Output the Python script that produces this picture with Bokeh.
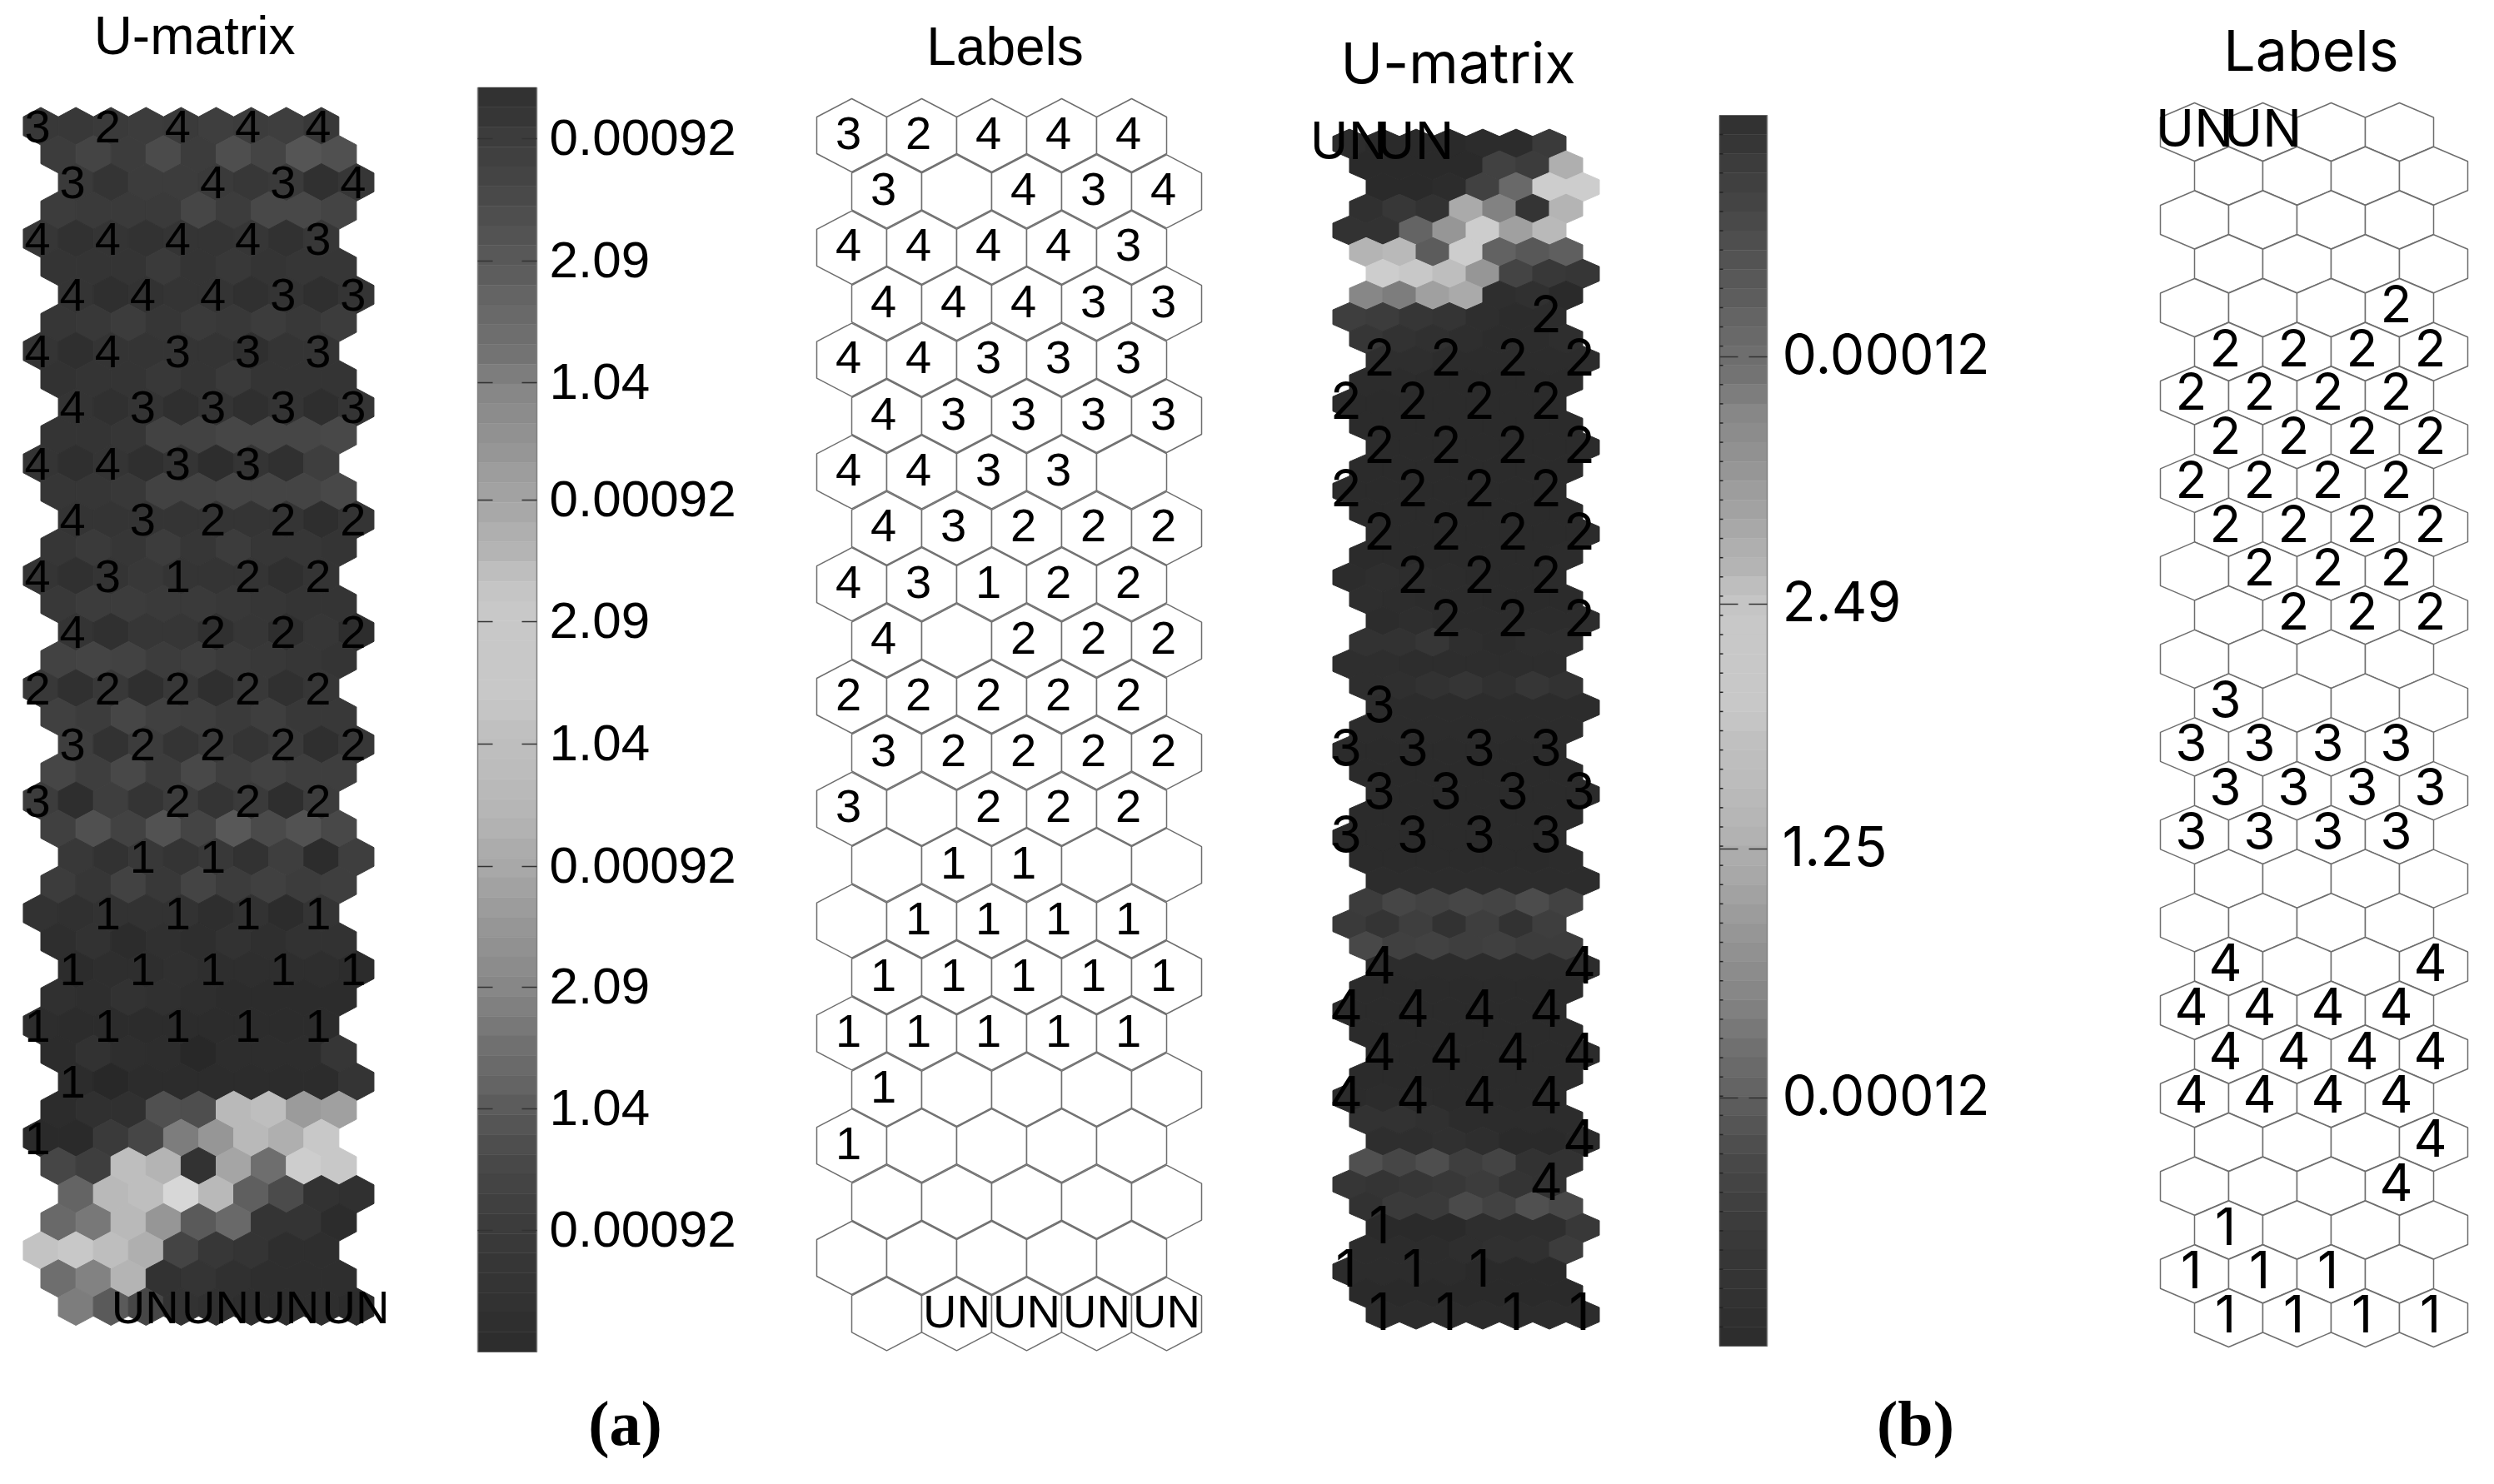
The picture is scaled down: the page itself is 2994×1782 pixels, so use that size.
from bokeh.plotting import figure
from bokeh.models import Range1d, ColumnDataSource, LinearColorMapper
from bokeh.core.properties import value
from bokeh.embed import file_html
from bokeh.resources import INLINE

# ---------- data ----------
labels_a = [
    "3 2 4 4 4", "3 . 4 3 4", "4 4 4 4 3", "4 4 4 3 3", "4 4 3 3 3", "4 3 3 3 3",
    "4 4 3 3 .", "4 3 2 2 2", "4 3 1 2 2", "4 . 2 2 2", "2 2 2 2 2", "3 2 2 2 2",
    "3 . 2 2 2", ". 1 1 . .", ". 1 1 1 1", "1 1 1 1 1", "1 1 1 1 1", "1 . . . .",
    "1 . . . .", ". . . . .", ". . . . .", ". UN UN UN UN",
]
labels_b = [
    "UN UN . .", ". . . .", ". . . .", ". . . .", ". . . 2", "2 2 2 2", "2 2 2 2",
    "2 2 2 2", "2 2 2 2", "2 2 2 2", ". 2 2 2", ". 2 2 2", ". . . .", "3 . . .",
    "3 3 3 3", "3 3 3 3", "3 3 3 3", ". . . .", ". . . .", "4 . . 4", "4 4 4 4",
    "4 4 4 4", "4 4 4 4", ". . . 4", ". . . 4", "1 . . .", "1 1 1 .", "1 1 1 1",
]
umatrix_a = [
    [56, 56, 58, 60, 58, 62, 60, 62, 56], [60, 68, 60, 75, 60, 78, 68, 85, 80],
    [58, 52, 60, 60, 58, 55, 58, 48, 54], [60, 58, 58, 58, 70, 60, 72, 72, 68],
    [54, 49, 52, 50, 52, 52, 54, 49, 55], [52, 52, 52, 58, 52, 56, 52, 54, 54],
    [52, 47, 50, 52, 52, 48, 52, 47, 52], [54, 56, 60, 54, 58, 56, 60, 56, 60],
    [52, 47, 52, 52, 52, 52, 47, 52, 52], [50, 52, 52, 56, 52, 58, 52, 52, 52],
    [52, 48, 52, 47, 52, 47, 52, 46, 52], [52, 52, 54, 66, 66, 70, 70, 70, 72],
    [52, 47, 52, 47, 52, 45, 52, 48, 62], [54, 54, 56, 66, 66, 68, 68, 68, 72],
    [52, 52, 52, 52, 52, 52, 52, 46, 52], [54, 58, 54, 60, 54, 60, 54, 54, 52],
    [52, 48, 52, 56, 52, 52, 52, 47, 52], [56, 60, 60, 58, 58, 56, 54, 52, 52],
    [52, 48, 54, 54, 48, 54, 46, 54, 45], [66, 68, 66, 60, 62, 58, 56, 54, 52],
    [56, 48, 56, 47, 56, 47, 56, 48, 54], [64, 60, 70, 64, 62, 58, 62, 56, 56],
    [62, 50, 60, 52, 58, 52, 58, 47, 55], [70, 62, 72, 60, 72, 62, 66, 62, 62],
    [60, 46, 62, 52, 60, 52, 58, 46, 60], [64, 80, 66, 82, 68, 88, 74, 82, 72],
    [56, 50, 56, 52, 56, 50, 62, 44, 62], [60, 54, 66, 56, 68, 60, 64, 60, 62],
    [50, 48, 50, 50, 50, 46, 50, 44, 52], [46, 50, 44, 48, 46, 50, 47, 50, 50],
    [44, 46, 46, 48, 46, 46, 46, 46, 44], [48, 46, 50, 48, 46, 44, 44, 44, 44],
    [45, 44, 44, 44, 44, 44, 44, 44, 44], [44, 50, 46, 45, 40, 45, 45, 45, 54],
    [44, 40, 44, 44, 44, 44, 44, 44, 52], [44, 48, 48, 80, 78, 185, 190, 155, 160],
    [42, 42, 58, 70, 125, 150, 185, 175, 200], [70, 62, 190, 180, 50, 165, 110, 205, 200],
    [100, 185, 190, 215, 185, 95, 75, 50, 48], [105, 120, 185, 150, 90, 105, 52, 52, 44],
    [195, 200, 190, 175, 68, 55, 52, 46, 46], [110, 130, 180, 50, 52, 48, 46, 46, 46],
    [125, 90, 70, 50, 48, 46, 46, 46, 44],
]
umatrix_b = [
    [45, 42, 42, 42, 44, 44, 58], [42, 42, 42, 42, 65, 60, 175],
    [42, 42, 44, 65, 105, 205, 205], [48, 55, 50, 170, 130, 52, 180],
    [50, 50, 100, 150, 205, 160, 185], [180, 185, 92, 205, 98, 88, 95],
    [205, 200, 190, 150, 68, 56, 54], [135, 125, 160, 170, 46, 48, 42],
    [62, 60, 54, 52, 46, 44, 44], [54, 50, 48, 46, 44, 44, 46],
    [46, 46, 44, 44, 44, 44, 44], [44, 44, 43, 43, 43, 43, 43],
    [43, 43, 43, 43, 43, 43, 43], [43, 43, 43, 43, 43, 43, 43],
    [43, 43, 43, 43, 43, 43, 43], [43, 43, 43, 43, 43, 43, 43],
    [43, 43, 43, 43, 43, 43, 43], [43, 43, 43, 43, 43, 43, 43],
    [43, 43, 43, 43, 43, 43, 43], [43, 43, 43, 43, 43, 43, 44],
    [44, 46, 45, 44, 43, 43, 43], [46, 45, 44, 44, 43, 43, 43],
    [44, 46, 44, 44, 44, 44, 44], [50, 50, 54, 46, 44, 46, 46],
    [46, 46, 45, 45, 45, 45, 45], [46, 47, 50, 53, 48, 54, 50],
    [44, 44, 44, 44, 44, 44, 44], [44, 44, 44, 44, 44, 44, 44],
    [43, 43, 43, 43, 43, 43, 43], [43, 43, 43, 43, 43, 43, 43],
    [43, 43, 43, 43, 43, 43, 43], [43, 43, 43, 43, 43, 43, 43],
    [43, 43, 43, 43, 43, 43, 43], [43, 43, 43, 43, 43, 43, 44],
    [44, 44, 44, 44, 44, 44, 44], [60, 70, 66, 70, 68, 76, 66],
    [58, 52, 62, 50, 62, 50, 62], [72, 64, 66, 62, 64, 60, 60],
    [44, 44, 44, 44, 44, 44, 44], [43, 43, 43, 43, 43, 43, 43],
    [43, 43, 43, 43, 43, 43, 43], [43, 43, 43, 43, 43, 43, 43],
    [43, 43, 43, 43, 43, 43, 43], [43, 43, 43, 43, 43, 43, 43],
    [43, 44, 44, 43, 43, 43, 43], [50, 50, 48, 44, 44, 44, 44],
    [46, 46, 48, 46, 42, 42, 44], [80, 70, 78, 62, 68, 50, 50],
    [54, 52, 54, 56, 60, 52, 50], [50, 58, 58, 74, 66, 80, 72],
    [42, 42, 42, 46, 46, 46, 56], [44, 44, 44, 46, 48, 48, 60],
    [44, 44, 44, 44, 42, 42, 42], [42, 42, 42, 42, 42, 42, 42],
    [44, 44, 44, 44, 44, 44, 44],
]
colorbar_levels = [
    50, 54, 60, 64, 68, 73, 78, 83, 88, 93, 100, 105, 110, 115, 125, 135,
    140, 145, 150, 157, 162, 168, 175, 180, 190, 197, 200, 200, 200, 200, 200, 197,
    192, 190, 188, 185, 182, 178, 172, 168, 162, 156, 150, 145, 140, 135, 128, 120,
    112, 106, 100, 92, 85, 78, 72, 68, 64, 60, 57, 54, 52, 50, 47, 45,
]
ticks_a = ["0.00092", "2.09", "1.04", "0.00092", "2.09", "1.04", "0.00092", "2.09", "1.04", "0.00092"]
ticks_b = ["0.00012", "2.49", "1.25", "0.00012"]

# ---------- layout ----------
SANS = "Liberation Sans"
WIDE = "Inter"
p = figure(width=2978, height=1766, output_backend="svg", toolbar_location=None,
           x_range=Range1d(0, 2978), y_range=Range1d(1766, 0), min_border=0)
p.axis.visible = False
p.grid.visible = False
p.outline_line_color = None
p.background_fill_color = "white"
mapper = LinearColorMapper(palette=["#%02x%02x%02x" % (g, g, g) for g in range(256)], low=0, high=255)


def hexverts(cx, cy, hw, r):
    return ([cx, cx + hw, cx + hw, cx, cx - hw, cx - hw],
            [cy - r, cy - r / 2, cy + r / 2, cy + r, cy + r / 2, cy - r / 2])


def draw_texts(xs, ys, texts, size, font=SANS, style="normal", align="center"):
    p.text(x=xs, y=ys, text=texts, text_font=value(font), text_font_size=f"{size}px",
           text_font_style=style, text_align=align, text_baseline="middle", text_color="#000000")


def draw_umatrix(grid, labels, x0, y0, dx, dy, r, size, font=SANS, text_dy=0):
    zig = [0, 0.5, 1, 0.5]
    xs, ys, vals = [], [], []
    for i, row in enumerate(grid):
        for j, v in enumerate(row):
            vx, vy = hexverts(x0 + (j + zig[i % 4]) * dx, y0 + i * dy, dx / 2, r)
            xs.append(vx); ys.append(vy); vals.append(v)
    src = ColumnDataSource(dict(xs=xs, ys=ys, v=vals))
    col = {"field": "v", "transform": mapper}
    p.patches("xs", "ys", source=src, fill_color=col, line_color=col, line_width=1)
    tx, ty, tt = [], [], []
    for lr, line in enumerate(labels):
        for c, t in enumerate(line.split()):
            if t != ".":
                tx.append(x0 + (2 * c + (lr % 2)) * dx - (4 if len(t) == 1 else 1))
                ty.append(y0 + 2 * lr * dy + text_dy)
                tt.append(t)
    draw_texts(tx, ty, tt, size, font=font)


def draw_labels(labels, x0, y0, dx, dy, r, size, font=SANS, text_dy=0):
    xs, ys, tx, ty, tt = [], [], [], [], []
    for lr, line in enumerate(labels):
        for c, t in enumerate(line.split()):
            cx = x0 + (c + (lr % 2) * 0.5) * dx
            cy = y0 + lr * dy
            vx, vy = hexverts(cx, cy, dx / 2, r)
            xs.append(vx); ys.append(vy)
            if t != ".":
                tx.append(cx - (4 if len(t) == 1 else 0)); ty.append(cy + text_dy); tt.append(t)
    p.patches(xs, ys, fill_color="white", line_color="#6e6e6e", line_width=1.5)
    draw_texts(tx, ty, tt, size, font=font)


def draw_colorbar(left, right, top, bottom, tick_ys, tick_texts, tick_len, text_x, size, minor, font=SANS, text_dy=0):
    n = len(colorbar_levels)
    h = (bottom - top) / n
    src = ColumnDataSource(dict(left=[left] * n, right=[right] * n,
                                top=[top + i * h for i in range(n)],
                                bottom=[top + (i + 1) * h for i in range(n)],
                                v=colorbar_levels))
    col = {"field": "v", "transform": mapper}
    p.quad(left="left", right="right", top="top", bottom="bottom", source=src, fill_color=col, line_color=col, line_width=0.5)
    p.segment(x0=[left, right], y0=[top, top], x1=[left, right], y1=[bottom, bottom],
              line_color=["#444444" if minor else "#808080", "#808080"], line_width=1.5)
    sx0 = [left] * len(tick_ys) + [right - tick_len] * len(tick_ys)
    sx1 = [left + tick_len] * len(tick_ys) + [right] * len(tick_ys)
    p.segment(x0=sx0, y0=tick_ys * 2, x1=sx1, y1=tick_ys * 2, line_color="#333333", line_width=1.5)
    if minor:
        my = [top + i * h for i in range(1, n)]
        p.segment(x0=[left] * len(my), y0=my, x1=[left + 4] * len(my), y1=my, line_color="#222222", line_width=1.5)
    draw_texts([text_x] * len(tick_ys), [y + text_dy for y in tick_ys], tick_texts, size, align="left", font=font)


# panel (a)
draw_umatrix(umatrix_a, labels_a, 48.5, 151, 42.1, 33.75, 22.5, 56)
draw_labels(labels_a, 1022, 162, 84, 67.4, 44, 56, text_dy=-3)
draw_colorbar(573, 644, 104.5, 1623, [166, 313, 459, 600, 746, 893, 1040, 1185, 1331, 1477], ticks_a, 18, 659, 62, False, text_dy=-2)

# panel (b)
draw_umatrix(umatrix_b, labels_b, 1619.5, 172, 40, 26.04, 17.4, 62, font=WIDE, text_dy=-4)
draw_labels(labels_b, 2634, 158, 82, 52.74, 35, 62, font=WIDE, text_dy=-5)
draw_colorbar(2064, 2121, 138, 1616, [428, 725, 1019, 1318], ticks_b, 22, 2139, 66, True, font=WIDE, text_dy=-4)

# titles and panel letters
draw_texts([233, 1206], [42, 55], ["U-matrix", "Labels"], 64)
draw_texts([1750, 2774], [74, 59], ["U-matrix", "Labels"], 68, font=WIDE)
draw_texts([750, 2299], [1708, 1708], ["(a)", "(b)"], 76, font="Liberation Serif", style="bold")

open("out.html", "w").write(file_html(p, INLINE))
